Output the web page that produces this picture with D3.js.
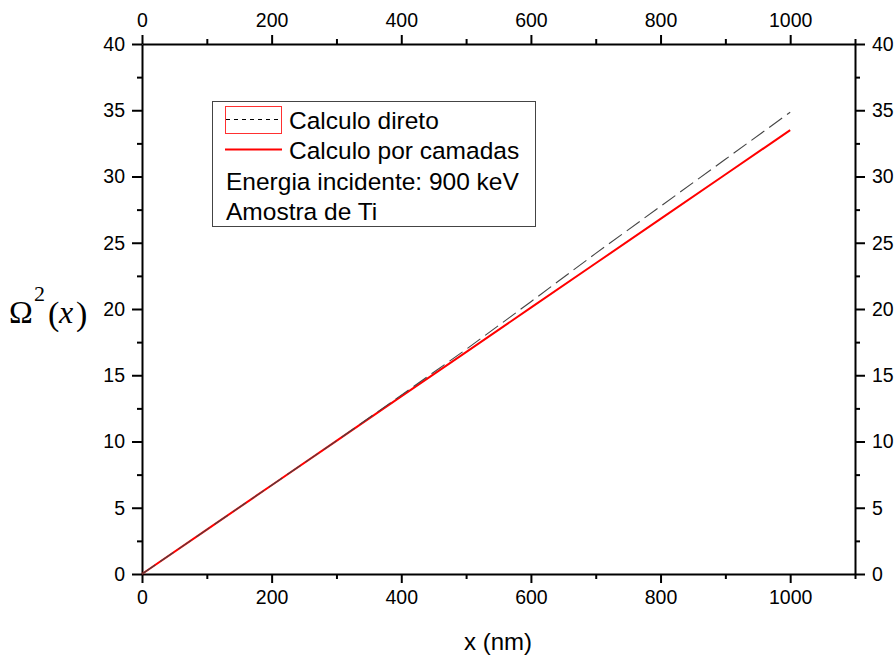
<!DOCTYPE html>
<html>
<head>
<meta charset="utf-8">
<script src="https://cdn.jsdelivr.net/npm/d3@7"></script>
<style>
  body { margin: 0; background: #fff; }
  svg { display: block; }
  .axis path, .axis line { stroke: #000; stroke-width: 2px; }
  .axis text { font-family: "Liberation Sans", Arial, sans-serif; font-size: 19.5px; fill: #000; }
</style>
</head>
<body>
<svg id="chart" width="896" height="659"></svg>
<script>
// ---- data ----
const xValues = [0, 100, 200, 300, 400, 500, 600, 700, 800, 900, 1000];
const directValues = [0, 3.35, 6.7, 10.05, 13.5, 16.95, 20.55, 24.2, 27.75, 31.3, 34.85];
const layerValues = [0, 3.35, 6.7, 10.05, 13.4, 16.75, 20.1, 23.45, 26.8, 30.15, 33.5];
const xTicks = [0, 200, 400, 600, 800, 1000];
const xMinorTicks = [100, 300, 500, 700, 900, 1100];
const yTicks = [0, 5, 10, 15, 20, 25, 30, 35, 40];
const yMinorTicks = [2.5, 7.5, 12.5, 17.5, 22.5, 27.5, 32.5, 37.5];
const legendLabels = ["Calculo direto", "Calculo por camadas", "Energia incidente: 900 keV", "Amostra de Ti"];
const xTitle = "x (nm)";

// ---- layout ----
const svg = d3.select("#chart");
const m = { left: 142, top: 44, right: 855, bottom: 574 };
const x = d3.scaleLinear().domain([0, 1100]).range([m.left, m.right]);
const y = d3.scaleLinear().domain([0, 40]).range([m.bottom, m.top]);

// minor ticks
function minor(gen, ticks, transform) {
  svg.append("g").attr("class", "axis").attr("transform", transform)
    .call(gen.tickValues(ticks).tickSize(5).tickSizeOuter(0).tickFormat(""))
    .call(g => g.select(".domain").remove());
}
minor(d3.axisBottom(x), xMinorTicks, `translate(0,${m.bottom})`);
minor(d3.axisTop(x), xMinorTicks, `translate(0,${m.top})`);
minor(d3.axisLeft(y), yMinorTicks, `translate(${m.left},0)`);
minor(d3.axisRight(y), yMinorTicks, `translate(${m.right},0)`);

// major axes
svg.append("g").attr("class", "axis").attr("transform", `translate(0,${m.bottom})`)
  .call(d3.axisBottom(x).tickValues(xTicks).tickSize(9).tickSizeOuter(0).tickPadding(7).tickFormat(d3.format("d")));
svg.append("g").attr("class", "axis").attr("transform", `translate(0,${m.top})`)
  .call(d3.axisTop(x).tickValues(xTicks).tickSize(9).tickSizeOuter(0).tickPadding(8).tickFormat(d3.format("d")));
svg.append("g").attr("class", "axis").attr("transform", `translate(${m.left},0)`)
  .call(d3.axisLeft(y).tickValues(yTicks).tickSize(10).tickSizeOuter(0).tickPadding(7).tickFormat(d3.format("d")));
svg.append("g").attr("class", "axis").attr("transform", `translate(${m.right},0)`)
  .call(d3.axisRight(y).tickValues(yTicks).tickSize(10).tickSizeOuter(0).tickPadding(7).tickFormat(d3.format("d")));

// lines
const line = d3.line().x((d, i) => x(xValues[i])).y(d => y(d));
svg.append("path").datum(layerValues).attr("d", line)
  .attr("fill", "none").attr("stroke", "#ff0000").attr("stroke-width", 2);
svg.append("path").datum(directValues).attr("d", line)
  .attr("fill", "none").attr("stroke", "#444").attr("stroke-width", 1.1)
  .attr("stroke-dasharray", "16,6");

// legend
const lg = svg.append("g");
lg.append("rect").attr("x", 212.5).attr("y", 101.5).attr("width", 323).attr("height", 125)
  .attr("fill", "#fff").attr("stroke", "#444").attr("stroke-width", 1);
lg.append("rect").attr("x", 225.5).attr("y", 106.5).attr("width", 56).attr("height", 27)
  .attr("fill", "none").attr("stroke", "#ff3030").attr("stroke-width", 1);
lg.append("line").attr("x1", 226).attr("x2", 281).attr("y1", 119.5).attr("y2", 119.5)
  .attr("stroke", "#000").attr("stroke-width", 1).attr("stroke-dasharray", "4,4");
lg.append("line").attr("x1", 225).attr("x2", 282).attr("y1", 149.5).attr("y2", 149.5)
  .attr("stroke", "#ff0000").attr("stroke-width", 2);
const rowsX = [289, 289, 226, 226];
const rowsY = [128.5, 159, 190, 220];
legendLabels.forEach((t, i) => {
  lg.append("text").attr("x", rowsX[i]).attr("y", rowsY[i]).text(t)
    .attr("font-family", "'Liberation Sans', Arial, sans-serif").attr("font-size", 24.5).attr("fill", "#000");
});

// x title
svg.append("text").attr("x", 498).attr("y", 650).attr("text-anchor", "middle")
  .attr("font-family", "'Liberation Sans', Arial, sans-serif").attr("font-size", 24).text(xTitle);

// y title: Ω²(x)
const yt = svg.append("text").attr("font-family", "'Liberation Serif', 'Times New Roman', serif").attr("fill", "#000");
yt.append("tspan").attr("x", 9).attr("y", 323).attr("font-size", 32).text("Ω");
yt.append("tspan").attr("x", 34).attr("y", 301).attr("font-size", 22).text("2");
yt.append("tspan").attr("x", 48).attr("y", 325).attr("font-size", 34).text("(");
yt.append("tspan").attr("x", 59).attr("y", 323).attr("font-size", 32).attr("font-style", "italic").text("x");
yt.append("tspan").attr("x", 76).attr("y", 325).attr("font-size", 34).text(")");
</script>
</body>
</html>
